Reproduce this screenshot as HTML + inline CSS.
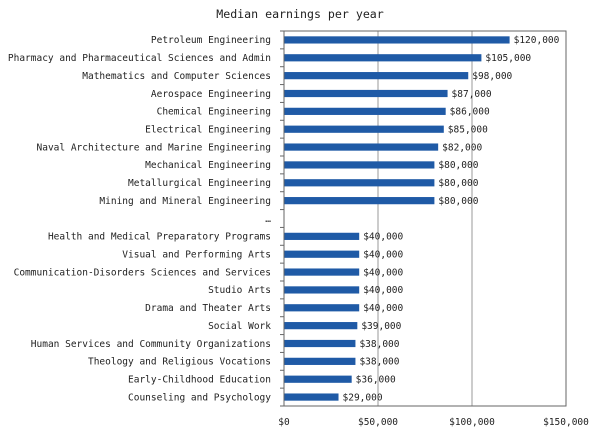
<!DOCTYPE html>
<html><head><meta charset="utf-8"><style>
body{margin:0;background:#fff;width:600px;height:436px;overflow:hidden}
svg text{font-family:"DejaVu Sans Mono","Liberation Mono",monospace;fill:#222}
</style></head><body>
<svg id="chart" width="600" height="436" xmlns="http://www.w3.org/2000/svg">
<text x="300" y="18" text-anchor="middle" font-size="11.6">Median earnings per year</text>
<g id="grid"></g><g id="bars"></g><g id="labels"></g>
<rect x="284" y="31" width="282" height="375" fill="none" stroke="#666" stroke-width="1"/>
</svg>
<script>
const categories=["Petroleum Engineering","Pharmacy and Pharmaceutical Sciences and Admin","Mathematics and Computer Sciences","Aerospace Engineering","Chemical Engineering","Electrical Engineering","Naval Architecture and Marine Engineering","Mechanical Engineering","Metallurgical Engineering","Mining and Mineral Engineering","…","Health and Medical Preparatory Programs","Visual and Performing Arts","Communication-Disorders Sciences and Services","Studio Arts","Drama and Theater Arts","Social Work","Human Services and Community Organizations","Theology and Religious Vocations","Early-Childhood Education","Counseling and Psychology"];
const values=[120000,105000,98000,87000,86000,85000,82000,80000,80000,80000,null,40000,40000,40000,40000,40000,39000,38000,38000,36000,29000];
const ticks=[0,50000,100000,150000];
const tickLabels=["$0","$50,000","$100,000","$150,000"];
const X0=284,X1=566,Y0=31,Y1=406,MAX=150000;
const x=v=>X0+(v/MAX)*(X1-X0);
const band=(Y1-Y0)/categories.length;
const y=i=>Y0+band*(i+0.5);
const NS="http://www.w3.org/2000/svg";
const fmt=v=>"$"+v.toLocaleString("en-US");
function mk(t,a,p){const e=document.createElementNS(NS,t);for(const k in a)e.setAttribute(k,a[k]);p.appendChild(e);return e;}
const G=document.getElementById("grid"),B=document.getElementById("bars"),L=document.getElementById("labels");
ticks.forEach((t,i)=>{
  if(t>0&&t<MAX){const g=mk("line",{x1:x(t),x2:x(t),y1:Y0,y2:Y1,stroke:"#999","stroke-width":1},G);
  
  }
  const tl=mk("text",{x:x(t),y:425,"text-anchor":"middle","font-size":"9.5"},L);
  tl.textContent=tickLabels[i];
  
  
});
for(let i=0;i<=categories.length;i++){
  const tk=mk("line",{x1:X0-4,x2:X0,y1:Y0+band*i,y2:Y0+band*i,stroke:"#666"},G);
  
  
}
categories.forEach((c,i)=>{
  const t=mk("text",{x:271,y:y(i)+3.3,"text-anchor":"end","font-size":"9.5"},L);
  t.textContent=c;
  
  
  const v=values[i];
  if(v!=null){
    const r=mk("rect",{x:X0,y:y(i)-3.6,width:x(v)-X0,height:7.2,fill:"#1f5aa6"},B);
    
    
    const vl=mk("text",{x:x(v)+4,y:y(i)+3.3,"font-size":"9.5"},L);
    vl.textContent=fmt(v);
    
    
  }
});
</script>
</body></html>
